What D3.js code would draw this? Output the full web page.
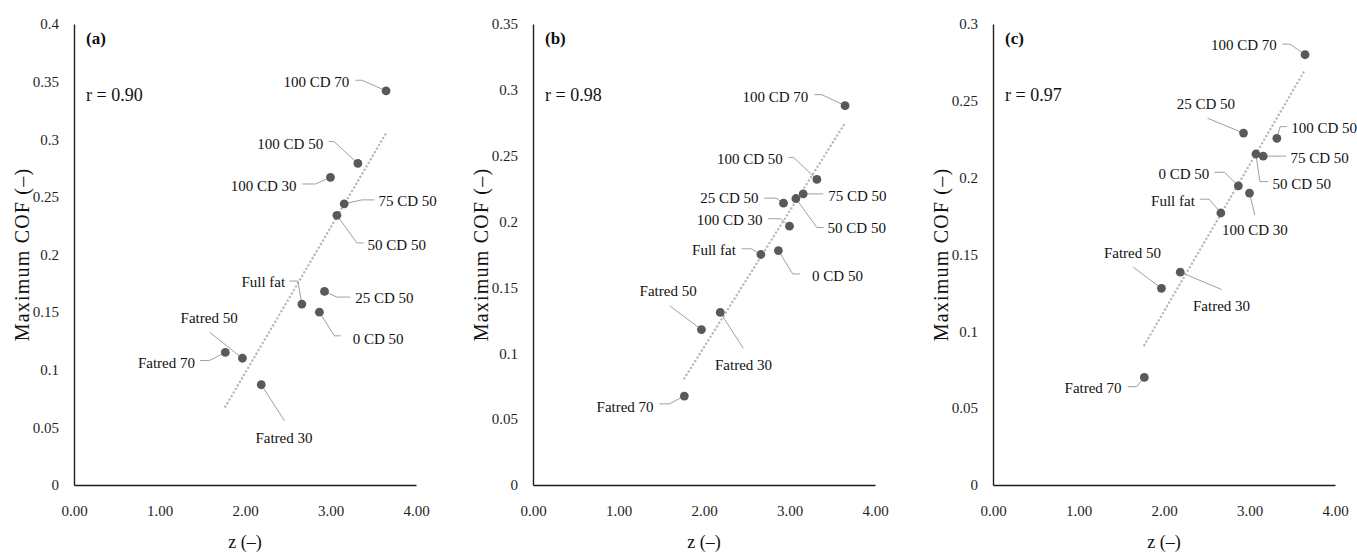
<!DOCTYPE html>
<html><head><meta charset="utf-8">
<script src="https://cdn.jsdelivr.net/npm/d3@7"></script>
<style>
body{margin:0;background:#fff}
svg{display:block}
svg text{font-family:"Liberation Serif","Times New Roman","DejaVu Serif",serif;}
</style></head>
<body><svg id="c" width="1357" height="554"></svg>
<script>
// ---- data ----
const names = ["Fatred 70","Fatred 50","Fatred 30","Full fat","0 CD 50","25 CD 50","100 CD 30","50 CD 50","75 CD 50","100 CD 50","100 CD 70"];
const zValues = [1.77, 1.97, 2.19, 2.665, 2.87, 2.93, 3.00, 3.075, 3.16, 3.32, 3.65];
const cofA = [0.115, 0.110, 0.087, 0.157, 0.150, 0.168, 0.267, 0.234, 0.244, 0.279, 0.342];
const cofB = [0.0675, 0.118, 0.131, 0.175, 0.178, 0.214, 0.1965, 0.2175, 0.221, 0.232, 0.288];
const cofC = [0.070, 0.128, 0.1385, 0.177, 0.1947, 0.229, 0.190, 0.2154, 0.214, 0.2256, 0.280];
const panelTags = ["(a)","(b)","(c)"];
const rLabels = ["r = 0.90","r = 0.98","r = 0.97"];
const yTicksA = [0,0.05,0.1,0.15,0.2,0.25,0.3,0.35,0.4];
const yTicksB = [0,0.05,0.1,0.15,0.2,0.25,0.3,0.35];
const yTicksC = [0,0.05,0.1,0.15,0.2,0.25,0.3];
const xTicks = [0,1,2,3,4];
const xTitle = "z (–)";
const yTitle = "Maximum COF (–)";

// ---- label placement (pixel offsets from each point) ----
// [textDx, textDy, anchor, elbowDx, elbowDy, horizontalLen]
const layoutA = [
 [-30.3,9.9,"end",-16,8.1,-9.3],[-33.3,-40,"middle",-32.7,-25.8,0],[22.7,53.1,"middle",23.3,36.1,0],
 [-16.7,-22,"end",-4,-23,-8.3],[33.3,26.2,"start",15,23.7,6.3],[30.7,6.4,"start",12.3,5.7,13.3],
 [-34,8.9,"end",-15,6.7,-13.3],[30.7,29,"start",20,27.6,6.7],[34.3,-3.2,"start",17.7,-3.9,12.3],
 [-34.7,-20.2,"end",-24,-22,-5],[-36.7,-9.2,"end",-24,-10.6,-6.7]];
const layoutB = [
 [-30.7,10.3,"end",-15,7.8,-10],[-33.3,-39,"middle",-31.7,-23.7,0],[23.3,52.4,"middle",23,35.8,0],
 [-25,-5,"end",-9.3,-5.7,-10],[33.7,25.1,"start",14.3,23.4,7.3],[-25,-5,"end",-7.7,-5,-11.7],
 [-27,-6.4,"end",-9,-7.4,-12.3],[31.7,29.7,"start",21,29,6.7],[25,1.4,"start",5,0,15],
 [-34,-20.9,"end",-23.3,-22,-5],[-36.7,-9.2,"end",-23.3,-11,-7.3]];
const layoutC = [
 [-22.7,10.6,"end",-7.7,9.2,-9],[-29,-35.4,"middle",-28.3,-21.2,0],[41.3,33.3,"middle",41.3,17.3,0],
 [-26,-12.7,"end",-11.7,-13.8,-9.3],[-29,-12.4,"end",-14,-13.5,-10],[-37.7,-29.7,"middle",-36,-14.9,0],
 [5.3,36.8,"middle",5.3,22,0],[16.7,29.4,"start",4,27.6,8.3],[27.3,1.4,"start",4.7,0,18.3],
 [14.3,-11,"start",3.3,-11.7,6.7],[-28.3,-9.6,"end",-15,-10.6,-7.7]];

const panels = [
  {cof: cofA, yTicks: yTicksA, layout: layoutA, left: 74},
  {cof: cofB, yTicks: yTicksB, layout: layoutB, left: 533},
  {cof: cofC, yTicks: yTicksC, layout: layoutC, left: 993}
];

const plotTop = 24, plotBottom = 485, plotWidth = 342;
const svg = d3.select("#c");

panels.forEach((p, pi) => {
  const x = d3.scaleLinear().domain([0, 4]).range([p.left, p.left + plotWidth]);
  const ymax = p.yTicks[p.yTicks.length - 1];
  const y = d3.scaleLinear().domain([0, ymax]).range([plotBottom, plotTop]);
  const g = svg.append("g");

  // axes
  const ax = g.append("g").attr("transform", `translate(0,${plotBottom})`)
    .call(d3.axisBottom(x).tickValues(xTicks).tickSize(0).tickPadding(20).tickFormat(d3.format(".2f")));
  const ay = g.append("g").attr("transform", `translate(${p.left},0)`)
    .call(d3.axisLeft(y).tickValues(p.yTicks).tickSize(0).tickPadding(15).tickFormat(d => String(d)));
  [ax, ay].forEach(a => {
    a.attr("font-family", null).attr("font-size", null);
    a.select(".domain").attr("stroke", "#1f1f1f").attr("stroke-width", 1.4);
    a.selectAll("text").style("font-size", "15px").attr("fill", "#1f1f1f");
  });

  // trendline (least squares)
  const zs = zValues, ys = p.cof;
  const mz = d3.mean(zs), my = d3.mean(ys);
  const sxy = d3.sum(zs.map((z, i) => (z - mz) * (ys[i] - my)));
  const sxx = d3.sum(zs.map(z => (z - mz) * (z - mz)));
  const b = sxy / sxx, a0 = my - b * mz;
  const zr = d3.extent(zs);
  g.append("line")
    .attr("x1", x(zr[0])).attr("y1", y(a0 + b * zr[0]))
    .attr("x2", x(zr[1])).attr("y2", y(a0 + b * zr[1]))
    .attr("stroke", "#b8b8b8").attr("stroke-width", 2.4)
    .attr("stroke-linecap", "round").attr("stroke-dasharray", "0.1 4");

  // leaders
  zs.forEach((z, i) => {
    const L = p.layout[i];
    const px = x(z), py = y(ys[i]);
    const pts = [[px, py], [px + L[3], py + L[4]], [px + L[3] + L[5], py + L[4]]];
    g.append("path").attr("d", d3.line()(pts)).attr("fill", "none")
      .attr("stroke", "#a0a0a0").attr("stroke-width", 1);
  });
  // points
  g.selectAll("circle.pt").data(zs).enter().append("circle")
    .attr("cx", d => x(d)).attr("cy", (d, i) => y(ys[i])).attr("r", 4.4)
    .attr("fill", "#595959");
  // labels
  zs.forEach((z, i) => {
    const L = p.layout[i];
    g.append("text").attr("x", x(z) + L[0]).attr("y", y(ys[i]) + L[1])
      .attr("dy", "0.35em").attr("text-anchor", L[2])
      .style("font-size", "15px").attr("fill", "#111")
      .text(names[i]);
  });

  // panel tag and r
  g.append("text").attr("x", p.left + 12).attr("y", 38).attr("dy", "0.35em")
    .style("font-size", "17px").style("font-weight", "bold").attr("fill", "#111")
    .text(panelTags[pi]);
  g.append("text").attr("x", p.left + 12).attr("y", 95).attr("dy", "0.35em")
    .style("font-size", "18px").attr("fill", "#111")
    .text(rLabels[pi]);

  // axis titles
  g.append("text").attr("x", p.left + plotWidth / 2).attr("y", 542).attr("dy", "0.35em")
    .attr("text-anchor", "middle").style("font-size", "18px").attr("fill", "#111")
    .text(xTitle);
  g.append("text").attr("transform", `translate(${p.left - 52},${(plotTop + plotBottom) / 2}) rotate(-90)`)
    .attr("dy", "0.35em").attr("text-anchor", "middle")
    .style("font-size", "20px").style("letter-spacing", "1.2px").attr("fill", "#111")
    .text(yTitle);
});
</script>
</body></html>
